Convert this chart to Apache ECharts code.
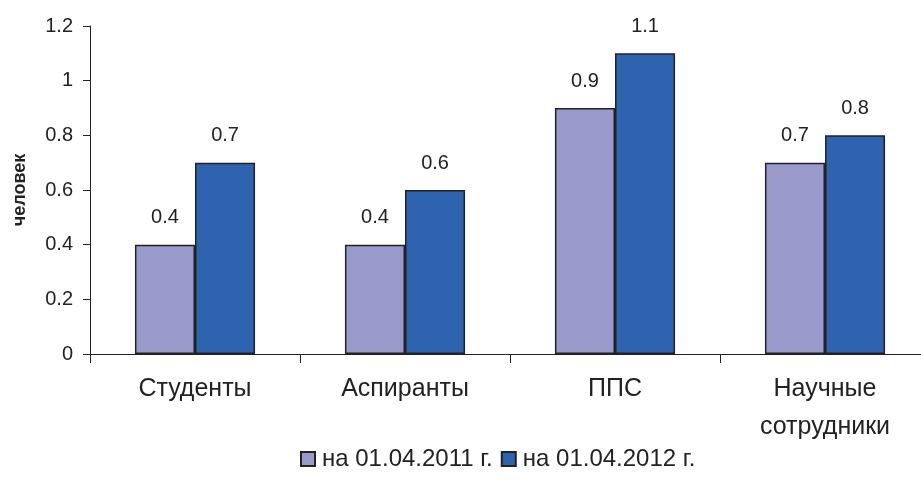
<!DOCTYPE html>
<html>
<head>
<meta charset="utf-8">
<script src="https://cdn.jsdelivr.net/npm/echarts@6/dist/echarts.min.js"></script>
<style>
  html, body { margin: 0; padding: 0; background: #fff; }
  #chart { width: 921px; height: 483px; }
</style>
</head>
<body>
<div id="chart"></div>
<script>
// Staff and student counts by category
const categories = ['Студенты', 'Аспиранты', 'ППС', 'Научные\nсотрудники'];
const values2011 = [0.4, 0.4, 0.9, 0.7];
const values2012 = [0.7, 0.6, 1.1, 0.8];
const seriesNames = ['на 01.04.2011 г.', 'на 01.04.2012 г.'];
const yTicks = { min: 0, max: 1.2, step: 0.2 };

const font = '"Liberation Sans", Arial, sans-serif';
const chart = echarts.init(document.getElementById('chart'));

function barSeries(name, data, color) {
  return {
    name: name,
    type: 'bar',
    data: data,
    barGap: '0%',
    barCategoryGap: '42.8%',
    itemStyle: { color: color, borderColor: '#222', borderWidth: 1.5 },
    label: {
      show: true,
      position: 'top',
      distance: 17,
      color: '#222',
      fontFamily: font,
      fontSize: 20
    }
  };
}

chart.setOption({
  animation: false,
  textStyle: { fontFamily: font },
  grid: { left: 90, top: 26, width: 840, height: 328, containLabel: false, outerBoundsMode: 'none' },
  xAxis: {
    type: 'category',
    data: categories,
    axisLine: { lineStyle: { color: '#222', width: 1 } },
    axisTick: { show: true, length: 9, lineStyle: { color: '#222' } },
    axisLabel: {
      color: '#222',
      fontFamily: font,
      fontSize: 25,
      margin: 16,
      lineHeight: 38
    }
  },
  yAxis: {
    type: 'value',
    min: yTicks.min,
    max: yTicks.max,
    interval: yTicks.step,
    name: 'человек',
    nameLocation: 'middle',
    nameRotate: 90,
    nameGap: 61,
    nameTextStyle: { color: '#222', fontWeight: 'bold', fontSize: 18, fontFamily: font },
    splitLine: { show: false },
    axisLine: { show: true, lineStyle: { color: '#222', width: 1 } },
    axisTick: { show: true, length: 7, lineStyle: { color: '#222' } },
    axisLabel: {
      color: '#222',
      fontFamily: font,
      fontSize: 20,
      margin: 17,
      formatter: function (v) { return String(Math.round(v * 10) / 10); }
    }
  },
  legend: {
    data: seriesNames,
    top: 442,
    left: 295,
    itemWidth: 14,
    itemHeight: 14,
    itemGap: 8,
    icon: 'rect',
    textStyle: { color: '#222', fontFamily: font, fontSize: 24, padding: [0, 0, 0, 2] }
  },
  series: [
    barSeries(seriesNames[0], values2011, '#9999CC'),
    barSeries(seriesNames[1], values2012, '#2E63B0')
  ]
});
</script>
</body>
</html>
